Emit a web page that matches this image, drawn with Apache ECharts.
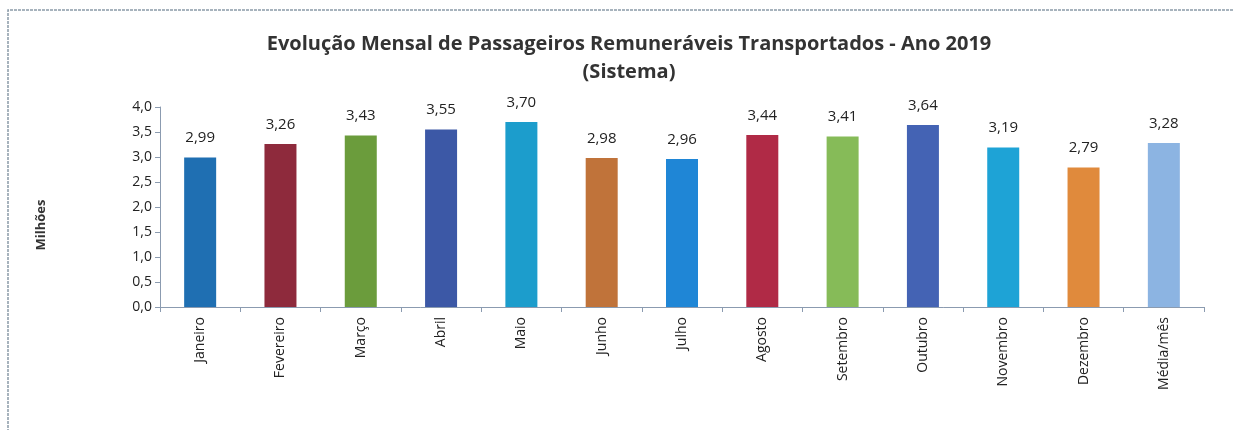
<!DOCTYPE html>
<html style="height: 100%">
<head>
<meta charset="utf-8">
<script type="text/javascript" src="https://cdn.jsdelivr.net/npm/echarts@6/dist/echarts.min.js"></script>
</head>
<body style="height: 100%; margin: 0; background: #fff">
<div id="container" style="width: 1234px; height: 430px"></div>
<script type="text/javascript">
var categorias = ['Janeiro', 'Fevereiro', 'Março', 'Abril', 'Maio', 'Junho', 'Julho',
                  'Agosto', 'Setembro', 'Outubro', 'Novembro', 'Dezembro', 'Média/mês'];
var passageiros = [2.99, 3.26, 3.43, 3.55, 3.70, 2.98, 2.96, 3.44, 3.41, 3.64, 3.19, 2.79, 3.28];
var cores = ['#1f6fb2', '#8e2a3c', '#6b9c3c', '#3c58a6', '#1c9dcc', '#c0733a', '#1f86d6',
             '#b02a46', '#86bb58', '#4463b4', '#1ea3d6', '#e08a3c', '#8cb4e2'];
var ticksY = ['0,0', '0,5', '1,0', '1,5', '2,0', '2,5', '3,0', '3,5', '4,0'];

var fonte = '"Open Sans", "DejaVu Sans", sans-serif';
var dom = document.getElementById('container');
var myChart = echarts.init(dom, null, { renderer: 'canvas' });

var dados = [];
for (var i = 0; i < passageiros.length; i++) {
    dados.push({ value: passageiros[i], itemStyle: { color: cores[i] } });
}

var option = {
    backgroundColor: '#fff',
    animation: false,
    title: {
        text: 'Evolução Mensal de Passageiros Remuneráveis Transportados - Ano 2019\n(Sistema)',
        left: 624, top: 25, textAlign: 'center',
        textStyle: { fontFamily: fonte, fontSize: 20, fontWeight: 'bold', color: '#333', lineHeight: 28 }
    },
    graphic: [{
        type: 'polyline',
        shape: { points: [[8, 440], [8, 10], [1240, 10]] },
        style: { stroke: '#8a9aa8', lineWidth: 1.5, fill: null, lineDash: [3, 1] }
    }],
    grid: { left: 160, right: 30, top: 107, bottom: 123 },
    xAxis: {
        type: 'category',
        data: categorias,
        axisLine: { lineStyle: { color: '#8b9bb0' } },
        axisTick: { show: true, length: 5, lineStyle: { color: '#8b9bb0' } },
        axisLabel: { rotate: 90, margin: 10, fontFamily: fonte, fontSize: 14, color: '#222' }
    },
    yAxis: {
        type: 'value',
        min: 0, max: 4, interval: 0.5,
        name: 'Milhões',
        nameLocation: 'middle',
        nameGap: 112,
        nameTextStyle: { fontFamily: fonte, fontSize: 13, fontWeight: 'bold', color: '#333', padding: [0, 36, 0, 0] },
        axisLine: { show: true, lineStyle: { color: '#8b9bb0' } },
        axisTick: { show: true, length: 5, lineStyle: { color: '#8b9bb0' } },
        splitLine: { show: false },
        axisLabel: {
            fontFamily: fonte, fontSize: 14, color: '#222', margin: 8,
            formatter: function (v) { return ticksY[Math.round(v / 0.5)]; }
        }
    },
    series: [{
        type: 'bar',
        data: dados,
        barWidth: 32,
        label: {
            show: true, position: 'top', distance: 12,
            fontFamily: fonte, fontSize: 15, color: '#222',
            formatter: function (p) { return p.value.toFixed(2).replace('.', ','); }
        }
    }]
};
myChart.setOption(option);
</script>
</body>
</html>
